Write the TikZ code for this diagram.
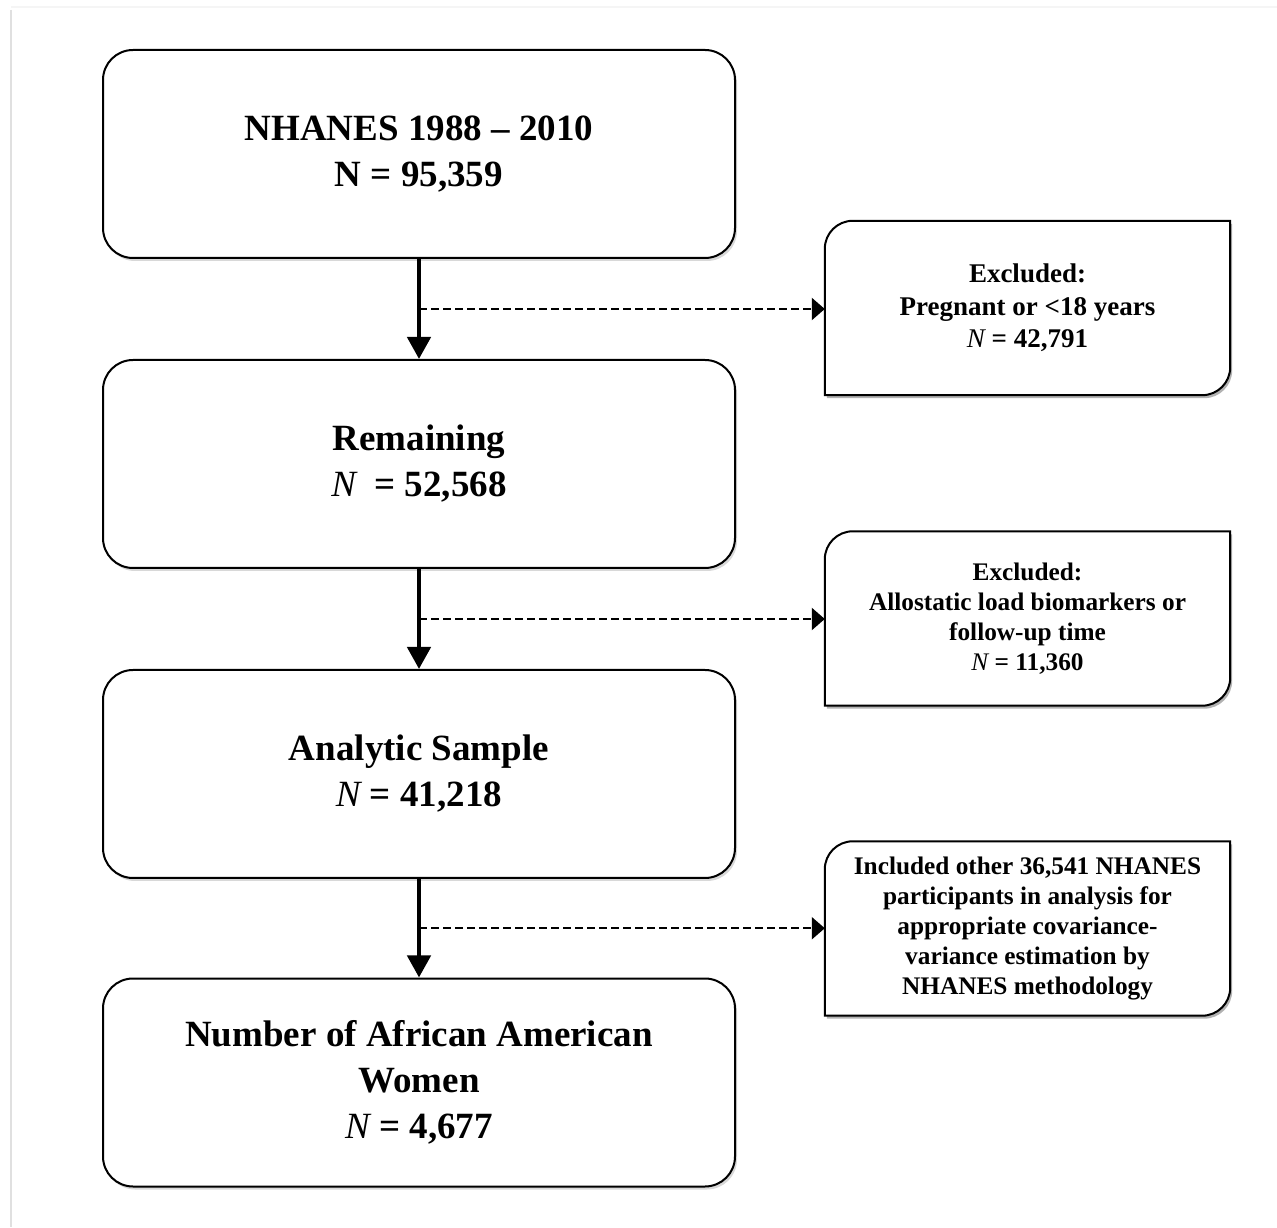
\documentclass[tikz,border=0pt]{standalone}
\usepackage{fontspec}
\setmainfont{Liberation Serif}
\usetikzlibrary{arrows.meta,shadows,backgrounds,calc}
\newcommand{\Nit}{{\normalfont\itshape N}}
\tikzset{
  mainbox/.style={draw, line width=2pt, rounded corners=30pt, minimum width=632pt,
    minimum height=208pt, align=center, fill=white,
    drop shadow={shadow xshift=2pt,shadow yshift=-3pt,opacity=0.3},
    font=\fontsize{37}{46}\selectfont\bfseries, inner sep=0pt},
  sidebox/.style={minimum width=405pt, minimum height=174pt, align=center,
    inner sep=0pt, font=\fontsize{25.3}{30}\selectfont\bfseries},
  sideline/.style={fill=white, draw=black, line width=2pt},
  sideshadow/.style={fill=black, opacity=0.3, transform canvas={shift={(2pt,-3pt)}}},
  flow/.style={line width=4.5pt, -{Triangle[width=23pt,length=22pt]}},
  aside/.style={line width=2.2pt, dash pattern=on 8pt off 4pt,
    -{Triangle[width=22pt,length=13pt]}},
  pageedge/.style={line width=2pt, draw=black!12},
}
\begin{document}
\begin{tikzpicture}[x=1pt,y=1pt]
\useasboundingbox (0,0) rectangle (1277,1227);

% main boxes
\node[mainbox] (b1) at (419,1073) {NHANES 1988 – 2010\\N = 95,359};
\node[mainbox] (b2) at (419,763) {Remaining\\\Nit\ \ = 52,568};
\node[mainbox] (b3) at (419,453) {Analytic Sample\\\Nit{} = 41,218};
\node[mainbox] (b4) at (419,144.5) {Number of African American\\Women\\\Nit{} = 4,677};

% side boxes
\node[sidebox, font=\fontsize{27}{32.5}\selectfont\bfseries] (e1) at (1027.5,919)
  {Excluded:\\Pregnant or <18 years\\\Nit{} = 42,791};
\node[sidebox] (e2) at (1027.5,608.5)
  {Excluded:\\Allostatic load biomarkers or\\follow-up time\\\Nit{} = 11,360};
\node[sidebox] (e3) at (1027.5,298.5)
  {Included other 36,541 NHANES\\participants in analysis for\\appropriate covariance-\\variance estimation by\\NHANES methodology};

\begin{scope}[on background layer]
  \fill[white] (0,0) rectangle (1277,1227);
  \draw[pageedge] (11,1217) -- (11,0);
  \draw[pageedge, draw=black!4] (11,1220) -- (1277,1220);
  \foreach \n in {e1,e2,e3} {
    \path[sideshadow] (\n.north east) -- ([xshift=28pt]\n.north west)
      arc[start angle=90,end angle=180,radius=28pt] -- (\n.south west)
      -- ([xshift=-28pt]\n.south east)
      arc[start angle=270,end angle=360,radius=28pt] -- cycle;
    \path[sideline] (\n.north east) -- ([xshift=28pt]\n.north west)
      arc[start angle=90,end angle=180,radius=28pt] -- (\n.south west)
      -- ([xshift=-28pt]\n.south east)
      arc[start angle=270,end angle=360,radius=28pt] -- cycle;
  }
\end{scope}

% connectors
\draw[flow] (b1.south) -- (b2.north);
\draw[flow] (b2.south) -- (b3.north);
\draw[flow] (b3.south) -- (b4.north);
\coordinate (m1) at ($(b1.south)!0.5!(b2.north)$);
\coordinate (m2) at ($(b2.south)!0.5!(b3.north)$);
\coordinate (m3) at ($(b3.south)!0.5!(b4.north)$);
\draw[aside] (m1) -- (m1 -| e1.west);
\draw[aside] (m2) -- (m2 -| e2.west);
\draw[aside] (m3) -- (m3 -| e3.west);
\end{tikzpicture}
\end{document}
